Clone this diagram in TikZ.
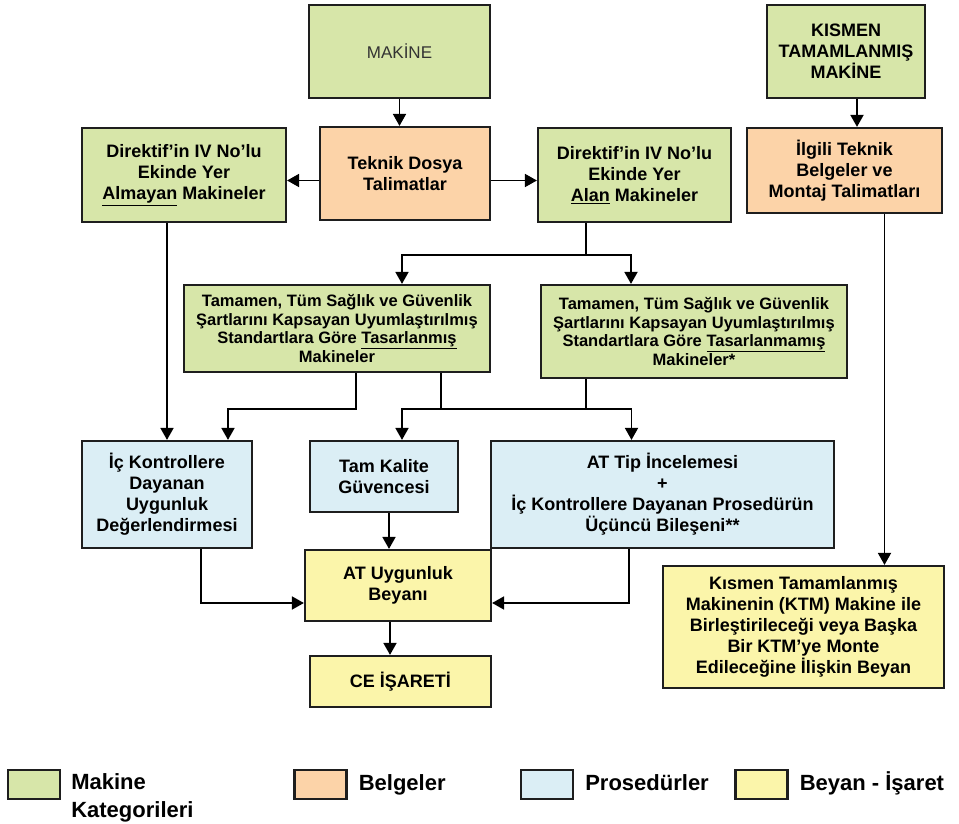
\documentclass[tikz,border=0pt]{standalone}
\usepackage{fontspec}
\setmainfont{Liberation Sans}
\usetikzlibrary{arrows.meta,positioning}

\definecolor{yesil}{HTML}{D7E6A9}
\definecolor{turuncu}{HTML}{FCD3A8}
\definecolor{mavi}{HTML}{DBEEF5}
\definecolor{sari}{HTML}{FBF5AA}
\definecolor{cerceve}{HTML}{1E1E1E}

\begin{document}
\begin{tikzpicture}[x=1pt,y=-1pt,
        kutu/.style={draw=cerceve, line width=2.2pt, align=center, inner sep=2pt,
            font=\fontsize{18}{21}\selectfont\bfseries},
        ok/.style={line width=1.8pt, -{Triangle[length=12pt,width=13pt]}},
        cizgi/.style={line width=1.8pt},
        lejant/.style={draw=cerceve, line width=2.2pt, minimum width=52pt, minimum height=29pt, inner sep=0pt},
        lyazi/.style={inner sep=0pt, font=\fontsize{22}{28}\selectfont\bfseries}]
        \useasboundingbox (0,0) rectangle (959,824);

        % kutular
        \node[kutu, fill=yesil, minimum width=181pt, minimum height=93pt,
            font=\fontsize{17}{20}\selectfont, text=black!80] (makine) at (399.5,51.5) {MAKİNE};
        \node[kutu, fill=turuncu, minimum width=170pt, minimum height=93pt] (teknik) at (405,173.5) {Teknik Dosya\\Talimatlar};
        \node[kutu, fill=yesil, minimum width=204pt, minimum height=94pt] (almayan) at (184,175)
            {Direktif’in IV No’lu\\Ekinde Yer\\\underline{Almayan} Makineler};
        \node[kutu, fill=yesil, minimum width=193pt, minimum height=94pt] (alan) at (634.5,175)
            {Direktif’in IV No’lu\\Ekinde Yer\\\underline{Alan} Makineler};
        \node[kutu, fill=yesil, minimum width=158pt, minimum height=93pt] (kismen) at (846,51.5)
            {KISMEN\\TAMAMLANMIŞ\\MAKİNE};
        \node[kutu, fill=turuncu, minimum width=195pt, minimum height=85pt] (ilgili) at (844.5,170.5)
            {İlgili Teknik\\Belgeler ve\\Montaj Talimatları};

        \node[kutu, fill=yesil, minimum width=306pt, minimum height=87pt,
            font=\fontsize{16.5}{18.5}\selectfont\bfseries] (tasarlanmis) at (337,328.5)
            {Tamamen, Tüm Sağlık ve Güvenlik\\Şartlarını Kapsayan Uyumlaştırılmış\\Standartlara Göre \underline{Tasarlanmış}\\Makineler};
        \node[kutu, fill=yesil, minimum width=306pt, minimum height=93pt,
            font=\fontsize{16.5}{18.5}\selectfont\bfseries] (tasarlanmamis) at (694,331.5)
            {Tamamen, Tüm Sağlık ve Güvenlik\\Şartlarını Kapsayan Uyumlaştırılmış\\Standartlara Göre \underline{Tasarlanmamış}\\Makineler*};

        \node[kutu, fill=mavi, minimum width=170pt, minimum height=107pt] (ickontrol) at (167,494.5)
            {İç Kontrollere\\Dayanan\\Uygunluk\\Değerlendirmesi};
        \node[kutu, fill=mavi, minimum width=148pt, minimum height=71pt] (tamkalite) at (384,476.5)
            {Tam Kalite\\Güvencesi};
        \node[kutu, fill=mavi, minimum width=343pt, minimum height=107pt] (attip) at (662.5,494.5)
            {AT Tip İncelemesi\\+\\İç Kontrollere Dayanan Prosedürün\\Üçüncü Bileşeni**};

        \node[kutu, fill=sari, minimum width=186pt, minimum height=71pt] (atuygun) at (398,585.5)
            {AT Uygunluk\\Beyanı};
        \node[kutu, fill=sari, minimum width=181pt, minimum height=51pt] (ce) at (400.5,681.5) {CE İŞARETİ};
        \node[kutu, fill=sari, minimum width=281pt, minimum height=122pt] (ktm) at (803.5,627)
            {Kısmen Tamamlanmış\\Makinenin (KTM) Makine ile\\Birleştirileceği veya Başka\\Bir KTM’ye Monte\\Edileceğine İlişkin Beyan};

        % oklar
        \draw[ok] (makine.south) -- (makine.south |- teknik.north);
        \coordinate (d1) at ([yshift=-7pt]teknik.west);
        \coordinate (d2) at ([yshift=-7pt]teknik.east);
        \draw[ok] (d1) -- (d1 -| almayan.east);
        \draw[ok] (d2) -- (d2 -| alan.west);
        \coordinate (k0) at ([xshift=11pt]kismen.south);
        \draw[ok] (k0) -- (k0 |- ilgili.north);

        \draw[ok] (ickontrol.north |- almayan.south) -- (ickontrol.north);
        \coordinate (a1) at (586,255);
        \draw[cizgi] (alan.south -| a1) -- (a1);
        \draw[ok] (a1) -| ([xshift=65pt]tasarlanmis.north);
        \draw[ok] (a1) -| ([xshift=-63pt]tasarlanmamis.north);

        \coordinate (b1) at (356,409);
        \coordinate (b2) at (441,409);
        \coordinate (b3) at (586,409);
        \draw[ok] (tasarlanmis.south -| b1) -- (b1) -| ([xshift=61pt]ickontrol.north);
        \draw[cizgi] (tasarlanmis.south -| b2) -- (b2);
        \draw[cizgi] (tasarlanmamis.south -| b3) -- (b3);
        \draw[ok] (b3) -| ([xshift=18pt]tamkalite.north);
        \draw[ok] (b3) -| ([xshift=-31pt]attip.north);

        \coordinate (c1) at ([xshift=5pt]tamkalite.south);
        \draw[ok] (c1) -- (c1 |- atuygun.north);
        \coordinate (c2) at ([xshift=-8pt]atuygun.south);
        \draw[ok] (c2) -- (c2 |- ce.north);
        \coordinate (g1) at (201,603);
        \coordinate (g2) at (629,603);
        \draw[ok] (ickontrol.south -| g1) -- (g1) -- (g1 -| atuygun.west);
        \draw[ok] (attip.south -| g2) -- (g2) -- (g2 -| atuygun.east);
        \coordinate (h1) at ([xshift=40pt]ilgili.south);
        \draw[ok] (h1) -- (h1 |- ktm.north);

        % lejant
        \node[lejant, fill=yesil] (lyesil) at (34,784.5) {};
        \node[lejant, fill=turuncu] (lturuncu) at (320.5,784.5) {};
        \node[lejant, fill=mavi] (lmavi) at (547,784.5) {};
        \node[lejant, fill=sari] (lsari) at (761.5,784.5) {};
        \node[lyazi, align=left, right=10pt of lyesil.north east, anchor=north west, yshift=-4pt] (tyesil) {Makine\\Kategorileri};
        \node[lyazi, right=11pt of lturuncu, anchor=base west, yshift=-6pt] (tturuncu) {Belgeler};
        \node[lyazi, right=11pt of lmavi, anchor=base west, yshift=-6pt] (tmavi) {Prosedürler};
        \node[lyazi, right=11pt of lsari, anchor=base west, yshift=-6pt] (tsari) {Beyan - İşaret};

    \end{tikzpicture}
\end{document}
